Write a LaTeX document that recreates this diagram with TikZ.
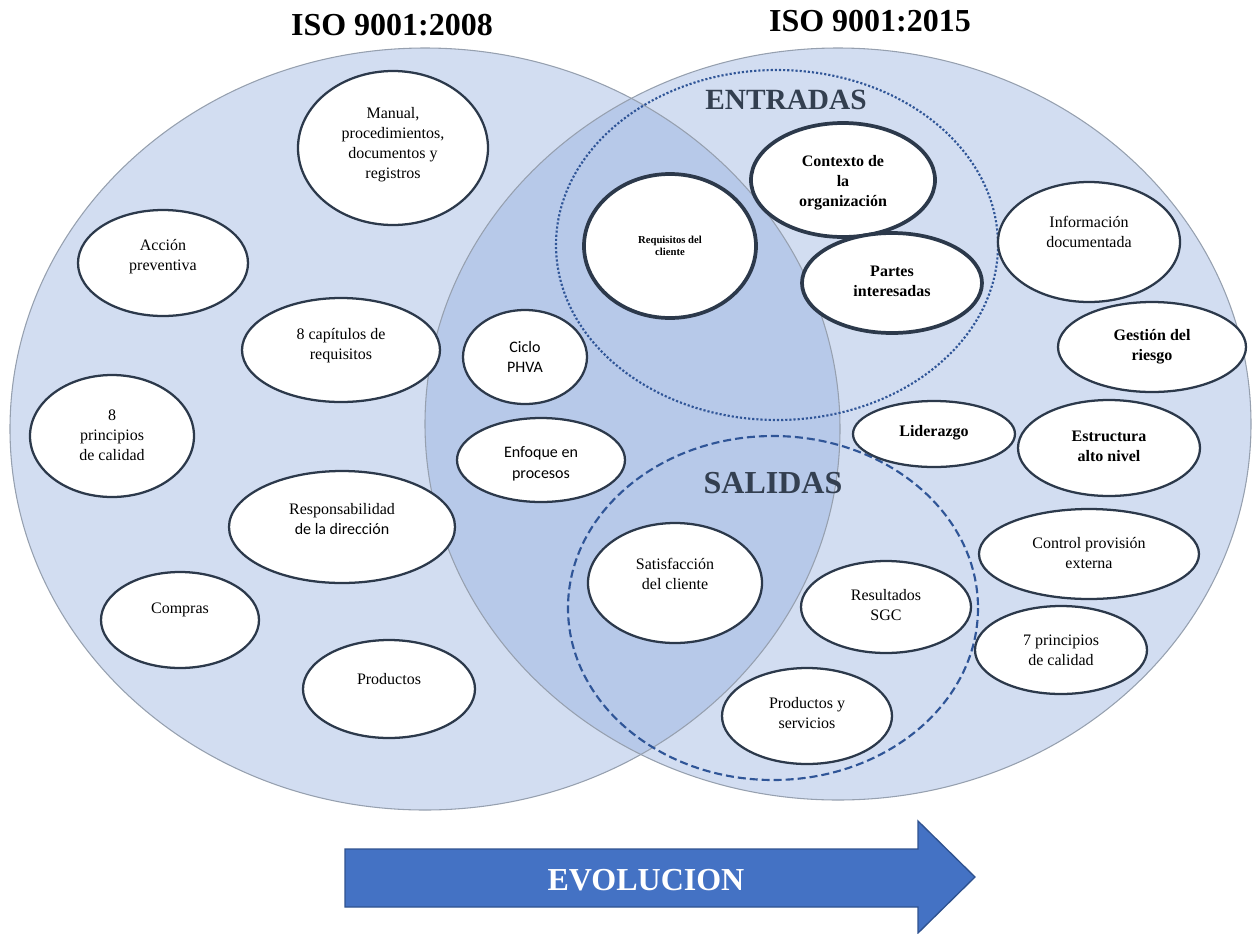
\documentclass[tikz,border=0pt]{standalone}
\usepackage{fontspec}
\setmainfont{Liberation Serif}
\newfontfamily\calib{Carlito}
\usetikzlibrary{shapes.geometric}
\definecolor{circfill}{RGB}{143,170,220}
\definecolor{circline}{RGB}{150,160,175}
\definecolor{ellc}{RGB}{44,57,75}
\definecolor{dotc}{RGB}{47,85,151}
\definecolor{headc}{RGB}{51,63,80}
\definecolor{arrfill}{RGB}{68,114,196}
\definecolor{arrline}{RGB}{47,82,143}
\begin{document}
\begin{tikzpicture}[x=0.75pt,y=-0.75pt,
  bigc/.style={fill=circfill,fill opacity=0.4,draw=none},
  bigline/.style={draw=circline,line width=0.8pt},
  ell/.style 2 args={ellipse,draw=ellc,fill=white,line width=1.7pt,minimum width=#1*1.5pt,minimum height=#2*1.5pt,inner sep=0pt},
  ellthick/.style={line width=2.8pt},
  tx/.style={align=center,inner sep=0pt,font=\fontsize{12}{15}\selectfont},
  txb/.style={align=center,inner sep=0pt,font=\fontsize{12}{15}\selectfont\bfseries},
  txc/.style={align=center,inner sep=0pt,font=\calib\fontsize{12}{15.5}\selectfont},
  head/.style={inner sep=0pt,font=\bfseries\fontsize{24}{28}\selectfont},
  ring/.style={draw=dotc,line width=1.6pt}
]
\useasboundingbox (0,0) rectangle (1258,933);
% big circles
\fill[bigc] (425,429) ellipse [x radius=415, y radius=381];
\fill[bigc] (838,424) ellipse [x radius=413, y radius=376];
\draw[bigline] (425,429) ellipse [x radius=415, y radius=381];
\draw[bigline] (838,424) ellipse [x radius=413, y radius=376];
% entradas / salidas rings
\draw[ring,dash pattern=on 1.6pt off 1.5pt] (777,245) ellipse [x radius=221, y radius=175];
\draw[ring,dash pattern=on 6pt off 3pt] (773,608) ellipse [x radius=205, y radius=172];
% titles
\node[head] (t08) at (392,25) {ISO 9001:2008};
\node[head] (t15) at (870,21) {ISO 9001:2015};
\node[head,text=headc,font=\bfseries\fontsize{22}{26}\selectfont] (entr) at (786,100) {ENTRADAS};
\node[head,text=headc] (sal) at (773,483) {SALIDAS};
% left circle items
\node[ell={95}{77}] (man) at (393,148) {};
\node[tx] at (393,145) {Manual,\\procedimientos,\\documentos y\\registros};
\node[ell={85}{53}] (acc) at (163,263) {};
\node[tx] at (163,257) {Acción\\preventiva};
\node[ell={99}{52}] (cap) at (341,350) {};
\node[tx] at (341,346) {8 capítulos de\\requisitos};
\node[ell={82}{61}] (pri8) at (112,436) {};
\node[tx] at (112,435) {8\\principios\\de calidad};
\node[ell={113}{56}] (resp) at (342,527) {};
\node[tx] at (342,519) {Responsabilidad\\{\calib de la dirección}};
\node[ell={79}{48}] (comp) at (180,620) {};
\node[tx] at (180,610) {Compras};
\node[ell={86}{49}] (prod) at (389,689) {};
\node[tx] at (389,679) {Productos};
% overlap items
\node[ell={86}{72},ellthick] (req) at (670,246) {};
\node[align=center,inner sep=0pt,font=\bfseries\fontsize{8}{9}\selectfont] at (670,246) {Requisitos del\\cliente};
\node[ell={62}{47}] (phva) at (525,357) {};
\node[txc] at (525,357) {Ciclo\\PHVA};
\node[ell={84}{42}] (enf) at (541,460) {};
\node[txc] at (541,464) {Enfoque en\\procesos};
\node[ell={87}{60}] (sat) at (675,583) {};
\node[tx] at (675,574) {Satisfacción\\del cliente};
% right circle items
\node[ell={92}{57},ellthick] (ctx) at (843,180) {};
\node[txb] at (843,183) {Contexto de\\la\\organización};
\node[ell={90}{50},ellthick] (par) at (892,283) {};
\node[txb] at (892,281) {Partes\\interesadas};
\node[ell={85}{46}] (res) at (886,607) {};
\node[tx] at (886,605) {Resultados\\SGC};
\node[ell={85}{48}] (pys) at (807,716) {};
\node[tx] at (807,713) {Productos y\\servicios};
\node[ell={91}{60}] (info) at (1089,242) {};
\node[tx] at (1089,232) {Información\\documentada};
\node[ell={94}{45}] (ges) at (1152,347) {};
\node[txb] at (1152,347) {Gestión del\\riesgo};
\node[ell={81}{33}] (lid) at (934,434) {};
\node[txb] at (934,433) {Liderazgo};
\node[ell={91}{48}] (est) at (1109,448) {};
\node[txb] at (1109,446) {Estructura\\alto nivel};
\node[ell={110}{45}] (ctrl) at (1089,554) {};
\node[tx] at (1089,553) {Control provisión\\externa};
\node[ell={86}{44}] (p7) at (1061,650) {};
\node[tx] at (1061,650) {7 principios\\de calidad};
% evolution arrow
\draw[fill=arrfill,draw=arrline,line width=1pt] (345,849) -- (918,849) -- (918,821) -- (975,877) -- (918,933) -- (918,907) -- (345,907) -- cycle;
\node[head,text=white] (evo) at (646,880) {EVOLUCION};
\end{tikzpicture}
\end{document}
